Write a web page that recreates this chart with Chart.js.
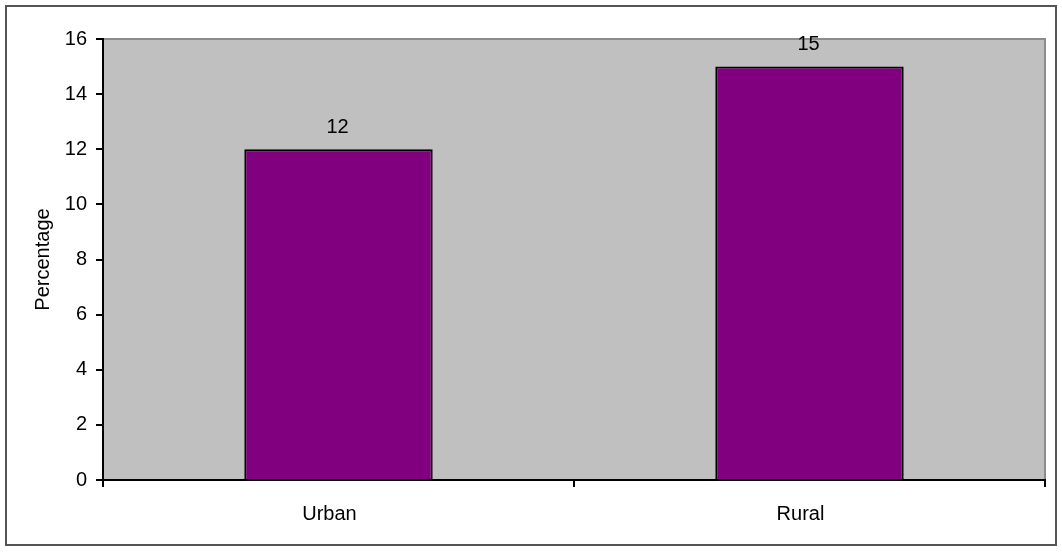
<!DOCTYPE html>
<html>
<head>
<meta charset="utf-8">
<script src="https://cdn.jsdelivr.net/npm/chart.js@4.4.1/dist/chart.umd.min.js"></script>
<style>
  html, body { margin: 0; padding: 0; background: #fff; }
  #frame {
    position: absolute; left: 5px; top: 5px;
    width: 1048px; height: 537px;
    border: 2px solid #555;
  }
  #wrap { position: absolute; left: 0; top: 0; width: 1062px; height: 554px; }
</style>
</head>
<body>
<div id="frame"></div>
<div id="wrap"><canvas id="chart" width="1062" height="554"></canvas></div>
<script>
const categories = ['Urban', 'Rural'];
const percentages = [12, 15];
const yTicks = [0, 2, 4, 6, 8, 10, 12, 14, 16];

const FONT = "'Liberation Sans', Arial, sans-serif";

// gray plot background with a thin darker rim
const plotBackground = {
  id: 'plotBackground',
  beforeDraw(chart) {
    const { ctx, chartArea: a } = chart;
    ctx.save();
    ctx.fillStyle = '#c0c0c0';
    ctx.fillRect(a.left, a.top, a.right - a.left, a.bottom - a.top);
    ctx.strokeStyle = '#8c8c8c';
    ctx.lineWidth = 2;
    ctx.beginPath();
    ctx.moveTo(a.left, a.top);
    ctx.lineTo(a.right, a.top);
    ctx.lineTo(a.right, a.bottom);
    ctx.stroke();
    ctx.restore();
  }
};

// value labels above each bar
const valueLabels = {
  id: 'valueLabels',
  afterDatasetsDraw(chart) {
    const { ctx } = chart;
    const meta = chart.getDatasetMeta(0);
    ctx.save();
    ctx.font = '20px ' + FONT;
    ctx.fillStyle = '#000';
    ctx.textAlign = 'center';
    ctx.textBaseline = 'middle';
    meta.data.forEach((bar, i) => {
      ctx.fillText(String(percentages[i]), bar.x - 1, bar.y - 22);
    });
    ctx.restore();
  }
};

new Chart(document.getElementById('chart'), {
  type: 'bar',
  data: {
    labels: categories,
    datasets: [{
      data: percentages,
      backgroundColor: '#800080',
      borderColor: '#000',
      borderWidth: 2,
      barPercentage: 0.4,
      categoryPercentage: 1,
    }],
  },
  options: {
    responsive: false,
    animation: false,
    layout: { padding: { top: 39, right: 17, left: 0, bottom: 0 } },
    plugins: {
      legend: { display: false },
      tooltip: { enabled: false },
    },
    scales: {
      x: {
        offset: true,
        grid: {
          offset: true,
          drawOnChartArea: false,
          tickLength: 7,
          color: '#000',
          lineWidth: 2,
        },
        border: { color: '#000', width: 2 },
        ticks: {
          color: '#000',
          padding: 15,
          labelOffset: -9,
          font: { family: FONT, size: 20 },
        },
        afterFit(scale) { scale.height = 74; },
      },
      y: {
        min: 0,
        max: 16,
        afterBuildTicks(scale) {
          scale.ticks = yTicks.map(v => ({ value: v }));
        },
        grid: {
          drawOnChartArea: false,
          tickLength: 7,
          color: '#000',
          lineWidth: 2,
        },
        border: { color: '#000', width: 2 },
        ticks: {
          color: '#000',
          padding: 9,
          font: { family: FONT, size: 20 },
        },
        title: {
          display: true,
          text: 'Percentage',
          color: '#000',
          padding: { top: 31, bottom: 0 },
          font: { family: FONT, size: 20 },
        },
        afterFit(scale) { scale.width = 103; },
      },
    },
  },
  plugins: [plotBackground, valueLabels],
});
</script>
</body>
</html>
